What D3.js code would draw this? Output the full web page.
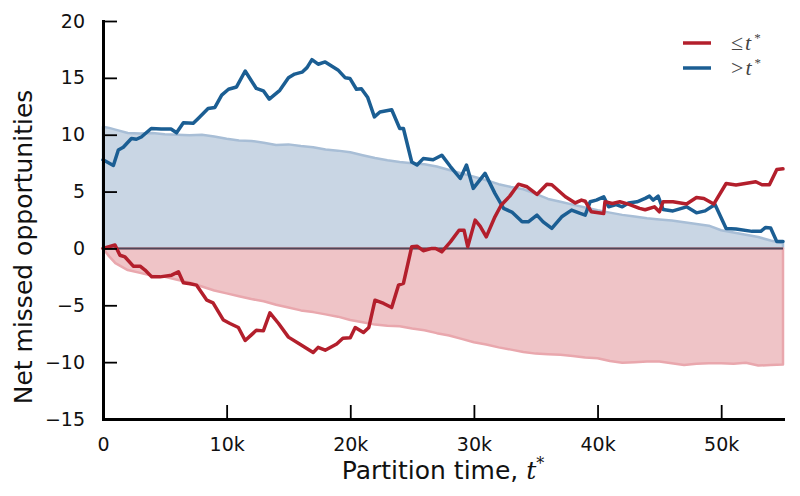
<!DOCTYPE html>
<html><head><meta charset="utf-8">
<script src="https://cdn.jsdelivr.net/npm/d3@7"></script>
<style>
body{margin:0;background:#fff;}
svg{display:block;font-family:"DejaVu Sans",sans-serif;}
</style></head><body>
<svg id="c" width="800" height="496"></svg>
<script>
// ---- data (time in thousands) ----
const bandT = [0,0.5,1,2,3,4,5,6,7,8,9,10,11,12,13,14,15,16,17,18,19,20,21,22,23,24,25,26,27,28,29,30,31,32,33,34,35,36,37,38,39,40,41,42,43,44,45,46,47,48,49,50,51,52,53,54,55];
const upperBand = [10.7,10.6,10.45,10.15,10.1,10.15,10.05,10.0,9.95,10.0,9.85,9.65,9.5,9.45,9.3,9.1,9.15,9.0,8.9,8.7,8.6,8.45,8.2,7.95,7.75,7.6,7.5,7.4,7.2,6.9,6.6,6.3,6.0,5.65,5.4,5.2,4.8,4.35,4.1,3.85,3.6,3.35,3.15,2.95,2.8,2.65,2.55,2.45,2.3,2.15,2.0,1.6,1.4,1.2,1.0,0.7,0.45];
const lowerBand = [0,-0.7,-1.3,-1.9,-2.15,-2.4,-2.5,-2.75,-3.0,-3.35,-3.7,-3.95,-4.2,-4.45,-4.65,-4.95,-5.2,-5.45,-5.6,-5.8,-6.0,-6.3,-6.5,-6.7,-6.8,-6.85,-7.05,-7.2,-7.45,-7.65,-7.95,-8.25,-8.45,-8.7,-8.9,-9.1,-9.25,-9.3,-9.35,-9.45,-9.6,-9.65,-9.9,-10.05,-10.0,-9.95,-9.95,-10.1,-10.25,-10.15,-10.1,-10.1,-10.15,-10.05,-10.3,-10.25,-10.2];

const blueT = [0,0.84,1.24,1.64,2.3,2.7,3.1,3.9,4.7,5.5,5.95,6.5,7.3,7.7,8.5,9.05,9.6,10.15,10.8,11.5,12.4,12.97,13.45,14.3,15.0,15.5,16.1,16.5,16.9,17.4,17.97,19.0,19.6,19.97,20.5,20.9,21.4,21.95,22.4,23.35,24.0,24.3,24.97,25.4,25.9,26.7,27.4,28.1,28.9,29.4,29.95,30.9,31.7,32.4,33.07,33.9,34.4,35.1,35.6,36.3,37.1,37.9,38.6,39.0,39.4,39.9,40.5,40.9,41.5,42.0,42.5,43.2,43.85,44.2,44.5,44.9,45.3,46.1,47.2,48.0,48.7,49.5,50.4,51.2,52.5,53.2,53.6,54.0,54.5,55];
const blueV = [7.8,7.3,8.65,8.9,9.67,9.6,9.8,10.55,10.5,10.5,10.17,11.05,11.0,11.43,12.3,12.4,13.48,14.0,14.2,15.6,14.07,13.86,13.13,13.9,15.0,15.33,15.5,15.9,16.6,16.2,16.4,15.7,15.0,14.95,14.0,14.05,13.3,11.57,12.0,12.2,10.55,10.55,7.6,7.33,7.9,7.8,8.2,7.2,6.15,7.33,5.28,6.6,4.84,3.52,3.2,2.34,2.34,2.93,2.34,1.76,2.78,3.37,3.08,2.93,4.1,4.25,4.54,3.66,3.85,3.66,4.0,4.1,4.4,4.6,4.25,4.6,3.43,3.3,3.66,3.13,3.3,3.87,1.76,1.7,1.5,1.5,1.85,1.8,0.6,0.62];

const redT = [0,0.97,1.37,1.78,2.45,3.0,3.4,3.94,4.6,5.55,6.1,6.5,7.04,7.57,8.4,8.9,9.74,10.27,10.95,11.5,12.0,12.4,12.97,13.5,14.2,15.0,15.9,17.0,17.4,17.97,18.9,19.4,20.0,20.4,21.07,21.5,22.0,22.7,23.35,23.9,24.3,24.97,25.4,25.9,26.6,26.9,27.4,28.1,28.8,29.2,29.5,30.1,30.5,31.0,31.7,32.2,32.9,33.6,34.3,35.1,35.9,36.3,37.4,38.2,38.7,39.0,39.5,40.5,40.6,41.2,41.8,42.5,43.4,43.85,44.6,45.0,45.3,46.1,47.2,48.0,48.6,49.4,50.4,51.2,52.8,53.3,53.9,54.5,55];
const redV = [0,0.3,-0.6,-0.75,-1.56,-1.56,-1.9,-2.5,-2.5,-2.35,-2.05,-3.02,-3.1,-3.23,-4.55,-4.78,-6.3,-6.6,-6.95,-8.1,-7.6,-7.2,-7.25,-5.66,-6.6,-7.8,-8.4,-9.15,-8.7,-8.95,-8.4,-7.9,-7.85,-6.95,-7.4,-6.95,-4.55,-4.84,-5.2,-3.23,-3.08,0.15,0.2,-0.2,0.0,0.0,-0.3,0.58,1.6,1.6,0.15,2.49,1.96,1.02,2.78,3.8,4.6,5.65,5.42,4.75,5.65,5.6,4.54,4.0,4.25,4.15,3.22,3.08,4.1,3.95,4.1,3.9,3.52,3.4,3.66,3.22,4.1,4.1,3.9,4.48,4.4,3.9,5.71,5.57,5.86,5.6,5.6,6.95,7.0];

const xTicks = [0,10000,20000,30000,40000,50000];
const xTickLabels = ["0","10k","20k","30k","40k","50k"];
const yTicks = [-15,-10,-5,0,5,10,15,20];
const yTickLabels = ["\u221215","\u221210","\u22125","0","5","10","15","20"];

const RED = "#b31f2c", BLUE = "#1b5e93";

// ---- chart ----
const svg = d3.select("#c");
const x = d3.scaleLinear().domain([0,55000]).range([103,783]);
const y = d3.scaleLinear().domain([-15,20]).range([419,21]);

const upperData = bandT.map((t,i)=>({t:t*1000,v:upperBand[i]}));
const lowerData = bandT.map((t,i)=>({t:t*1000,v:lowerBand[i]}));

const area = d3.area().x(d=>x(d.t)).y0(y(0)).y1(d=>y(d.v));
svg.append("path").datum(upperData).attr("d",area)
  .attr("fill","#c9d6e4").attr("stroke","#a8bed6").attr("stroke-width",2.5).attr("stroke-linejoin","round");
svg.append("path").datum(lowerData).attr("d",area)
  .attr("fill","#efc4c7").attr("stroke","#e9a7ad").attr("stroke-width",2.5).attr("stroke-linejoin","round");

// zero line
svg.append("line").attr("x1",x(0)).attr("x2",x(55000)).attr("y1",y(0)).attr("y2",y(0))
  .attr("stroke","#4f4658").attr("stroke-width",2);

const line = d3.line().x(d=>x(d.t)).y(d=>y(d.v));
svg.append("path").datum(blueT.map((t,i)=>({t:t*1000,v:blueV[i]}))).attr("d",line)
  .attr("fill","none").attr("stroke",BLUE).attr("stroke-width",3.5).attr("stroke-linejoin","round").attr("stroke-linecap","round");
svg.append("path").datum(redT.map((t,i)=>({t:t*1000,v:redV[i]}))).attr("d",line)
  .attr("fill","none").attr("stroke",RED).attr("stroke-width",3.5).attr("stroke-linejoin","round").attr("stroke-linecap","round");

// axes
const xAxis = d3.axisBottom(x).tickValues(xTicks).tickFormat((d,i)=>xTickLabels[i])
  .tickSizeInner(-14).tickSizeOuter(0).tickPadding(19);
const yAxis = d3.axisLeft(y).tickValues(yTicks).tickFormat((d,i)=>yTickLabels[i])
  .tickSizeInner(-14).tickSizeOuter(0).tickPadding(18);

const gx = svg.append("g").attr("transform",`translate(0,${y(-15)})`).call(xAxis);
const gy = svg.append("g").attr("transform",`translate(${x(0)},0)`).call(yAxis);
[gx,gy].forEach(g=>{
  g.select(".domain").attr("stroke","#000").attr("stroke-width",3).attr("stroke-linecap","square");
  g.selectAll(".tick line").attr("stroke","#000").attr("stroke-width",1.8);
  g.selectAll(".tick text").attr("fill","#111").style("font-family","DejaVu Sans").style("font-size","19px");
});

// axis labels
svg.append("text").attr("transform","translate(32,247) rotate(-90)").attr("text-anchor","middle")
  .style("font-size","25px").attr("fill","#111").text("Net missed opportunities");
const xl = svg.append("text").attr("x",443).attr("y",479).attr("text-anchor","middle")
  .style("font-size","25px").attr("fill","#111");
xl.append("tspan").text("Partition time, ");
xl.append("tspan").style("font-family","'DejaVu Serif',serif").style("font-style","italic").text("t");
xl.append("tspan").attr("dy",-10).style("font-size","16px").style("font-family","'DejaVu Serif',serif").text("*");

// legend
const legend = [{c:RED,sym:"\u2264"},{c:BLUE,sym:">"}];
legend.forEach((d,i)=>{
  const yy = 43 + i*25;
  svg.append("line").attr("x1",683).attr("x2",711).attr("y1",yy).attr("y2",yy)
    .attr("stroke",d.c).attr("stroke-width",3.5);
  const t = svg.append("text").attr("x",731).attr("y",yy+7).attr("fill","#444")
    .style("font-family","'Liberation Serif',serif").style("font-size","22px");
  t.append("tspan").text(d.sym);
  t.append("tspan").style("font-style","italic").attr("dx",2).text("t");
  t.append("tspan").attr("dy",-8).attr("dx",3).style("font-size","13px").text("*");
});
</script>
</body></html>
